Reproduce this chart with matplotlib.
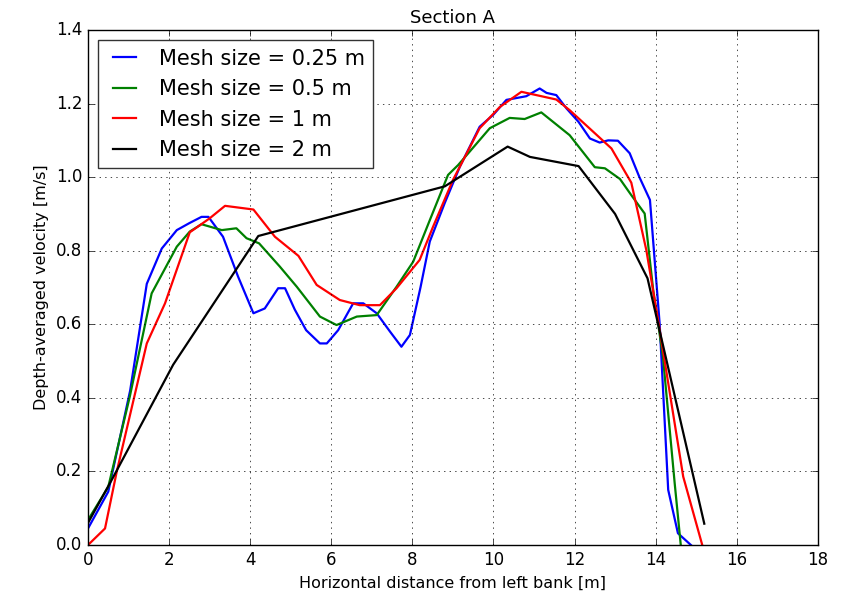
import numpy as np
import matplotlib
matplotlib.use("Agg")
import matplotlib.pyplot as plt

# mesh size 0.25 m
x_025 = [0, 0.5, 1.04, 1.45, 1.82, 2.19, 2.5, 2.8, 2.97, 3.33, 3.7, 4.08, 4.36, 4.69,
         4.86, 5.1, 5.38, 5.72, 5.89, 6.17, 6.54, 6.79, 7.12, 7.45, 7.73, 7.94, 8.2,
         8.43, 8.8, 9.17, 9.66, 10.0, 10.32, 10.81, 11.14, 11.31, 11.55, 11.8, 12.1,
         12.38, 12.62, 12.83, 13.07, 13.36, 13.6, 13.86, 14.1, 14.31, 14.55, 14.87]
v_025 = [0.045, 0.145, 0.42, 0.71, 0.806, 0.856, 0.875, 0.892, 0.892, 0.838, 0.73, 0.63,
         0.643, 0.698, 0.698, 0.64, 0.584, 0.548, 0.548, 0.584, 0.657, 0.657, 0.63, 0.58,
         0.539, 0.571, 0.7, 0.825, 0.93, 1.028, 1.137, 1.17, 1.21, 1.22, 1.241, 1.229,
         1.223, 1.187, 1.15, 1.105, 1.094, 1.1, 1.099, 1.065, 1.0, 0.938, 0.6, 0.15,
         0.032, 0.0]

# mesh size 0.5 m
x_05 = [0, 0.5, 1.03, 1.57, 2.19, 2.51, 2.8, 3.3, 3.66, 3.91, 4.22, 4.73, 5.15, 5.72,
        6.13, 6.63, 7.12, 7.61, 8.02, 8.43, 8.88, 9.13, 9.91, 10.4, 10.77, 11.18, 11.88,
        12.5, 12.75, 13.12, 13.4, 13.73, 13.94, 14.18, 14.47, 14.62]
v_05 = [0.068, 0.158, 0.403, 0.684, 0.811, 0.852, 0.872, 0.856, 0.861, 0.834, 0.82,
        0.757, 0.702, 0.621, 0.598, 0.621, 0.625, 0.702, 0.77, 0.883, 1.006, 1.033,
        1.133, 1.161, 1.158, 1.176, 1.114, 1.027, 1.024, 0.995, 0.951, 0.901, 0.693,
        0.512, 0.168, 0.0]

# mesh size 1 m
x_1 = [0, 0.42, 0.71, 1.45, 1.9, 2.51, 3.0, 3.38, 4.08, 4.61, 5.19, 5.64, 6.21, 6.7,
       7.2, 7.61, 8.18, 8.51, 9.0, 9.66, 10.16, 10.69, 11.55, 11.88, 12.91, 13.4,
       13.77, 14.1, 14.68, 15.15]
v_1 = [0.0, 0.045, 0.2, 0.548, 0.657, 0.85, 0.888, 0.922, 0.912, 0.838, 0.786, 0.707,
       0.666, 0.652, 0.652, 0.698, 0.775, 0.865, 0.992, 1.133, 1.191, 1.232, 1.211,
       1.182, 1.078, 0.985, 0.802, 0.585, 0.186, 0.0]

# mesh size 2 m
x_2 = [0, 0.6, 2.1, 4.2, 8.8, 10.35, 10.9, 12.1, 13.0, 13.8, 15.2]
v_2 = [0.06, 0.18, 0.49, 0.84, 0.975, 1.083, 1.055, 1.03, 0.9, 0.725, 0.058]

plt.style.use("classic")
fig = plt.figure(figsize=(8.51, 5.95), dpi=100, facecolor="white")
ax = fig.add_axes([0.1034, 0.084, 0.8576, 0.8656])

ax.plot(x_025, v_025, "b-", lw=1.6, label="Mesh size = 0.25 m")
ax.plot(x_05, v_05, "g-", lw=1.6, label="Mesh size = 0.5 m")
ax.plot(x_1, v_1, "r-", lw=1.6, label="Mesh size = 1 m")
ax.plot(x_2, v_2, "k-", lw=1.6, label="Mesh size = 2 m")

ax.set_xlim(0, 18)
ax.set_ylim(0, 1.4)
ax.set_xticks(np.arange(0, 19, 2))
ax.set_yticks(np.arange(0, 1.41, 0.2))
ax.grid(True)
ax.tick_params(labelsize=12)
ax.set_xlabel("Horizontal distance from left bank [m]", fontsize=11.5)
ax.set_ylabel("Depth-averaged velocity [m/s]", fontsize=11.5)
ax.set_title("Section A", fontsize=13)
leg = ax.legend(loc="upper left", fontsize=15, handlelength=1.7)
leg.get_frame().set_edgecolor("0.2")

fig.savefig("out.png", dpi=100, facecolor="white")
